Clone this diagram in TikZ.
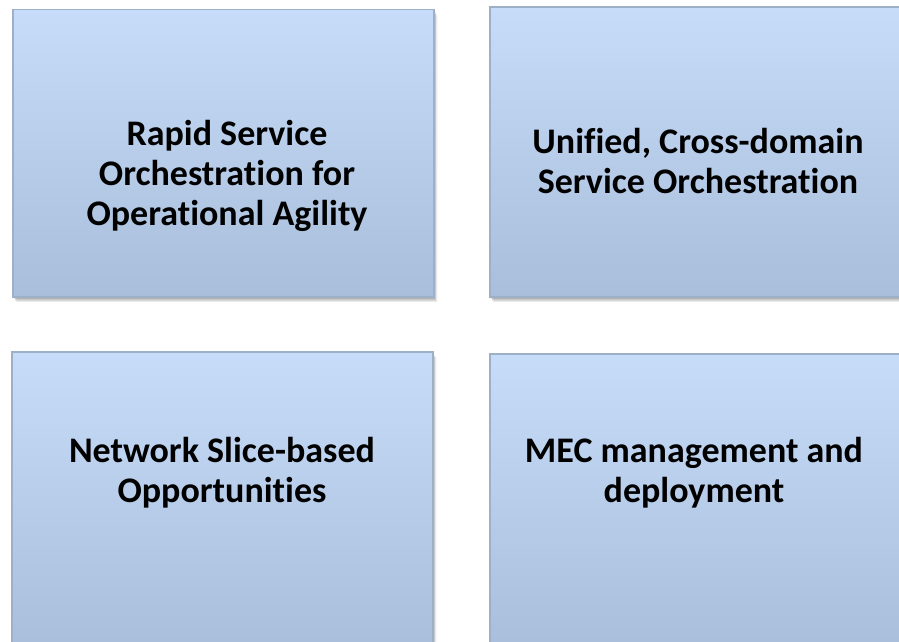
\documentclass[tikz,border=0pt]{standalone}
\usepackage{fontspec}
\setmainfont{Carlito}[Ligatures=NoCommon]
\definecolor{boxtop}{HTML}{C7DCF8}
\definecolor{boxbot}{HTML}{A8BEDB}
\definecolor{boxline}{HTML}{9DB0C8}
\tikzset{
  panel/.style={draw=boxline, line width=1.3pt, top color=boxtop, bottom color=boxbot, inner sep=0pt},
  label/.style={font=\fontsize{36}{40}\selectfont\bfseries, align=center, inner sep=0pt, text=black}
}
\newcommand{\softshadow}[4]{%
  \foreach \s/\o in {1/0.10,2/0.09,3/0.08,4/0.07,5/0.05,6/0.03}{%
    \fill[black, opacity=\o] (#1+\s*0.6, #2+\s*0.9) rectangle (#3+\s*0.6, #4+\s*0.9);
  }%
}
\begin{document}
\begin{tikzpicture}[x=1pt, y=-1pt]
\useasboundingbox (0,0) rectangle (899,642);
\fill[white] (0,0) rectangle (899,642);
% shadows
\softshadow{13}{9.5}{434}{297}
\softshadow{490}{7}{905}{297}
\softshadow{12}{352}{433}{650}
\softshadow{490}{354}{905}{650}
% boxes
\path[panel] (13,9.5) rectangle (434,297);
\path[panel] (490,7) rectangle (905,297);
\path[panel] (12,352) rectangle (433,650);
\path[panel] (490,354) rectangle (905,650);
\node[label] (t1) at (227,176) {Rapid Service\\Orchestration for\\Operational Agility};
\node[label] (t2) at (698,161) {Unified, Cross-domain\\Service Orchestration};
\node[label] (t3) at (222,473) {Network Slice-based\\Opportunities};
\node[label] (t4) at (694,473) {MEC management and\\deployment};
\end{tikzpicture}
\end{document}
